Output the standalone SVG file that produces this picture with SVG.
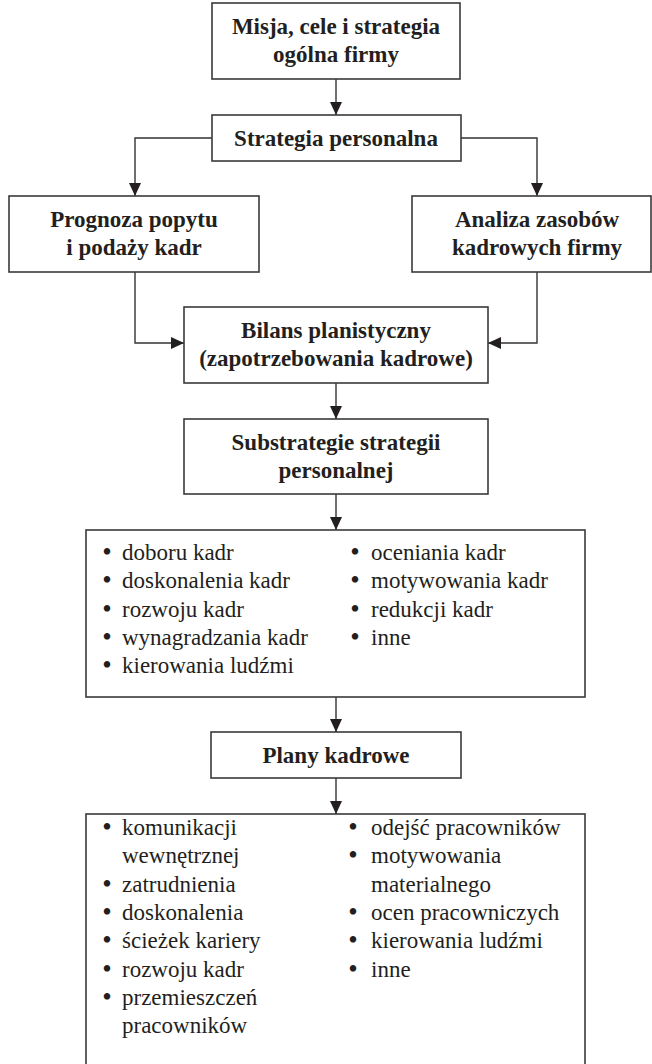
<svg xmlns="http://www.w3.org/2000/svg" width="652" height="1064" viewBox="0 0 652 1064">
<defs>
<style>
.box{fill:#fff;stroke:#3a3a3a;stroke-width:1.6}
.con{fill:none;stroke:#333;stroke-width:1.4}
.b{font-family:"Liberation Serif",serif;font-weight:bold;font-size:23px;fill:#231f20;text-anchor:middle}
.r{font-family:"Liberation Serif",serif;font-size:23px;fill:#231f20}
.d{font-family:"Liberation Serif",serif;font-size:27px;fill:#231f20;text-anchor:middle}
</style>
<marker id="ah" markerUnits="userSpaceOnUse" markerWidth="13" markerHeight="12" refX="13" refY="6" orient="auto" viewBox="0 0 13 12">
<path d="M0,0 L13,6 L0,12 z" fill="#231f20"/>
</marker>
</defs>
<rect width="652" height="1064" fill="#fff"/>
<g id="connectors">
<line class="con" x1="336" y1="79" x2="336" y2="115" marker-end="url(#ah)"/>
<polyline class="con" points="212,138 135,138 135,196" marker-end="url(#ah)"/>
<polyline class="con" points="461,138 537,138 537,196" marker-end="url(#ah)"/>
<polyline class="con" points="135,272 135,343 184,343" marker-end="url(#ah)"/>
<polyline class="con" points="537,272 537,343 488,343" marker-end="url(#ah)"/>
<line class="con" x1="336" y1="383" x2="336" y2="419" marker-end="url(#ah)"/>
<line class="con" x1="336" y1="494" x2="336" y2="530" marker-end="url(#ah)"/>
<line class="con" x1="336" y1="697" x2="336" y2="732" marker-end="url(#ah)"/>
<line class="con" x1="336" y1="778" x2="336" y2="814" marker-end="url(#ah)"/>
</g>
<g id="misja">
<rect class="box" x="212" y="3" width="248" height="76"/>
<text class="b" x="336" y="34">Misja, cele i strategia</text>
<text class="b" x="336" y="62">ogólna firmy</text>
</g>
<g id="strategia">
<rect class="box" x="212" y="115" width="249" height="46"/>
<text class="b" x="336" y="146">Strategia personalna</text>
</g>
<g id="prognoza">
<rect class="box" x="9" y="196" width="250" height="76"/>
<text class="b" x="134" y="227">Prognoza popytu</text>
<text class="b" x="134" y="255">i podaży kadr</text>
</g>
<g id="analiza">
<rect class="box" x="412" y="196" width="239" height="76"/>
<text class="b" x="537" y="227">Analiza zasobów</text>
<text class="b" x="537" y="255">kadrowych firmy</text>
</g>
<g id="bilans">
<rect class="box" x="184" y="307" width="304" height="76"/>
<text class="b" x="336" y="338">Bilans planistyczny</text>
<text class="b" x="336" y="366">(zapotrzebowania kadrowe)</text>
</g>
<g id="substrategie">
<rect class="box" x="184" y="419" width="304" height="75"/>
<text class="b" x="336" y="450">Substrategie strategii</text>
<text class="b" x="336" y="478">personalnej</text>
</g>
<g id="lista-substrategii">
<rect class="box" x="86" y="530" width="499" height="167"/>
<text class="d" x="107" y="561">•</text><text class="r" x="122" y="560">doboru kadr</text>
<text class="d" x="107" y="589">•</text><text class="r" x="122" y="588">doskonalenia kadr</text>
<text class="d" x="107" y="618">•</text><text class="r" x="122" y="617">rozwoju kadr</text>
<text class="d" x="107" y="646">•</text><text class="r" x="122" y="645">wynagradzania kadr</text>
<text class="d" x="107" y="674">•</text><text class="r" x="122" y="673">kierowania ludźmi</text>
<text class="d" x="355" y="561">•</text><text class="r" x="371" y="560">oceniania kadr</text>
<text class="d" x="355" y="589">•</text><text class="r" x="371" y="588">motywowania kadr</text>
<text class="d" x="355" y="618">•</text><text class="r" x="371" y="617">redukcji kadr</text>
<text class="d" x="355" y="646">•</text><text class="r" x="371" y="645">inne</text>
</g>
<g id="plany">
<rect class="box" x="211" y="732" width="250" height="46"/>
<text class="b" x="336" y="763">Plany kadrowe</text>
</g>
<g id="lista-planow">
<rect class="box" x="86" y="814" width="499" height="260"/>
<text class="d" x="107" y="836">•</text><text class="r" x="122" y="835">komunikacji</text>
<text class="r" x="122" y="863">wewnętrznej</text>
<text class="d" x="107" y="893">•</text><text class="r" x="122" y="892">zatrudnienia</text>
<text class="d" x="107" y="921">•</text><text class="r" x="122" y="920">doskonalenia</text>
<text class="d" x="107" y="949">•</text><text class="r" x="122" y="948">ścieżek kariery</text>
<text class="d" x="107" y="978">•</text><text class="r" x="122" y="977">rozwoju kadr</text>
<text class="d" x="107" y="1006">•</text><text class="r" x="122" y="1005">przemieszczeń</text>
<text class="r" x="122" y="1033">pracowników</text>
<text class="d" x="353" y="836">•</text><text class="r" x="371" y="835">odejść pracowników</text>
<text class="d" x="353" y="864">•</text><text class="r" x="371" y="863">motywowania</text>
<text class="r" x="371" y="892">materialnego</text>
<text class="d" x="353" y="921">•</text><text class="r" x="371" y="920">ocen pracowniczych</text>
<text class="d" x="353" y="949">•</text><text class="r" x="371" y="948">kierowania ludźmi</text>
<text class="d" x="353" y="978">•</text><text class="r" x="371" y="977">inne</text>
</g>
</svg>
